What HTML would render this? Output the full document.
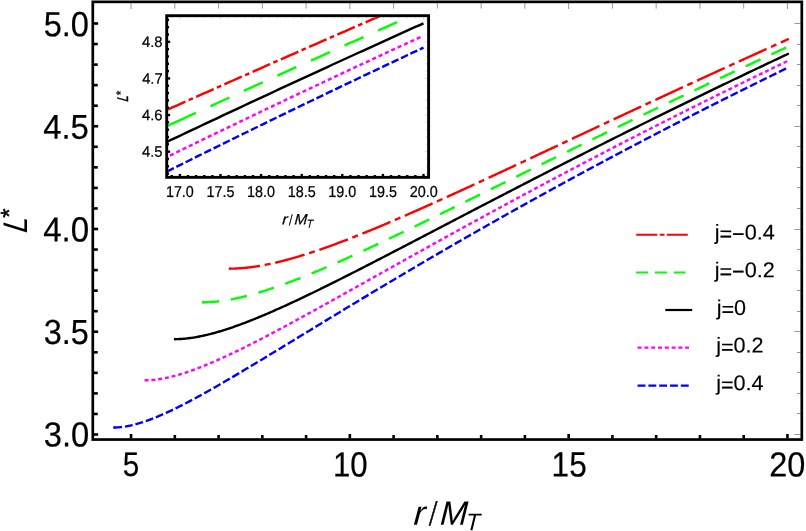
<!DOCTYPE html>
<html><head><meta charset="utf-8"><title>L* vs r/M_T</title>
<style>
html,body{margin:0;padding:0;background:#fff;}
svg{display:block;will-change:transform;}
text{font-family:"Liberation Sans",sans-serif;fill:#000;}
</style></head>
<body>
<svg width="806" height="531" viewBox="0 0 806 531">
<rect x="0" y="0" width="806" height="531" fill="#fff"/>
<defs>
<clipPath id="ic"><rect x="166.7" y="15.7" width="261.90000000000003" height="161.65"/></clipPath>
</defs>
<!-- main curves -->
<g fill="none" stroke-width="2.4">
<path d="M229.70,268.65 L231.10,268.64 L232.50,268.62 L233.90,268.58 L235.30,268.54 L236.70,268.47 L238.11,268.40 L239.51,268.31 L240.91,268.22 L242.31,268.11 L243.71,267.99 L245.11,267.85 L246.51,267.71 L247.91,267.56 L249.32,267.39 L250.72,267.22 L252.12,267.03 L253.52,266.84 L254.92,266.63 L256.32,266.42 L257.72,266.20 L259.13,265.97 L260.53,265.73 L261.93,265.48 L263.33,265.22 L264.73,264.96 L266.13,264.68 L267.53,264.40 L268.94,264.11 L270.34,263.82 L271.74,263.51 L273.14,263.20 L274.54,262.89 L275.94,262.56 L277.34,262.23 L278.75,261.89 L280.15,261.55 L281.55,261.20 L282.95,260.84 L284.35,260.48 L285.75,260.11 L287.15,259.74 L288.56,259.36 L289.96,258.97 L291.36,258.58 L292.76,258.19 L294.16,257.79 L295.56,257.38 L296.96,256.97 L298.36,256.55 L299.77,256.13 L301.17,255.70 L302.57,255.27 L303.97,254.84 L305.37,254.40 L306.77,253.96 L308.17,253.51 L309.58,253.06 L310.98,252.60 L312.38,252.14 L313.78,251.67 L315.18,251.21 L316.58,250.73 L317.98,250.26 L319.39,249.78 L320.79,249.30 L322.19,248.81 L323.59,248.32 L324.99,247.83 L326.39,247.33 L327.79,246.83 L329.20,246.33 L330.60,245.82 L332.00,245.31 L333.40,244.80 L334.80,244.28 L336.20,243.76 L337.60,243.24 L339.00,242.72 L340.41,242.19 L341.81,241.66 L343.21,241.13 L344.61,240.60 L346.01,240.06 L347.41,239.52 L348.81,238.98 L350.22,238.43 L351.62,237.89 L353.02,237.34 L354.42,236.79 L355.82,236.23 L357.22,235.68 L358.62,235.12 L360.03,234.56 L361.43,234.00 L362.83,233.43 L364.23,232.87 L365.63,232.30 L367.03,231.73 L368.43,231.16 L369.84,230.58 L371.24,230.01 L372.64,229.43 L374.04,228.85 L375.44,228.27 L376.84,227.69 L378.24,227.10 L379.65,226.52 L381.05,225.93 L382.45,225.34 L383.85,224.75 L385.25,224.16 L386.65,223.56 L388.05,222.97 L389.45,222.37 L390.86,221.77 L392.26,221.18 L393.66,220.57 L395.06,219.97 L396.46,219.37 L397.86,218.77 L399.26,218.16 L400.67,217.55 L402.07,216.95 L403.47,216.34 L404.87,215.73 L406.27,215.11 L407.67,214.50 L409.07,213.89 L410.48,213.27 L411.88,212.66 L413.28,212.04 L414.68,211.42 L416.08,210.80 L417.48,210.18 L418.88,209.56 L420.29,208.94 L421.69,208.32 L423.09,207.70 L424.49,207.07 L425.89,206.45 L427.29,205.82 L428.69,205.19 L430.10,204.57 L431.50,203.94 L432.90,203.31 L434.30,202.68 L435.70,202.05 L437.10,201.42 L438.50,200.78 L439.90,200.15 L441.31,199.52 L442.71,198.88 L444.11,198.25 L445.51,197.61 L446.91,196.98 L448.31,196.34 L449.71,195.70 L451.12,195.06 L452.52,194.42 L453.92,193.79 L455.32,193.15 L456.72,192.50 L458.12,191.86 L459.52,191.22 L460.93,190.58 L462.33,189.94 L463.73,189.30 L465.13,188.65 L466.53,188.01 L467.93,187.36 L469.33,186.72 L470.74,186.07 L472.14,185.43 L473.54,184.78 L474.94,184.14 L476.34,183.49 L477.74,182.84 L479.14,182.19 L480.55,181.55 L481.95,180.90 L483.35,180.25 L484.75,179.60 L486.15,178.95 L487.55,178.30 L488.95,177.65 L490.35,177.00 L491.76,176.35 L493.16,175.70 L494.56,175.05 L495.96,174.40 L497.36,173.75 L498.76,173.09 L500.16,172.44 L501.57,171.79 L502.97,171.14 L504.37,170.48 L505.77,169.83 L507.17,169.18 L508.57,168.52 L509.97,167.87 L511.38,167.22 L512.78,166.56 L514.18,165.91 L515.58,165.25 L516.98,164.60 L518.38,163.95 L519.78,163.29 L521.19,162.64 L522.59,161.98 L523.99,161.32 L525.39,160.67 L526.79,160.01 L528.19,159.36 L529.59,158.70 L531.00,158.05 L532.40,157.39 L533.80,156.73 L535.20,156.08 L536.60,155.42 L538.00,154.77 L539.40,154.11 L540.80,153.45 L542.21,152.80 L543.61,152.14 L545.01,151.48 L546.41,150.83 L547.81,150.17 L549.21,149.51 L550.61,148.86 L552.02,148.20 L553.42,147.54 L554.82,146.89 L556.22,146.23 L557.62,145.57 L559.02,144.91 L560.42,144.26 L561.83,143.60 L563.23,142.94 L564.63,142.29 L566.03,141.63 L567.43,140.97 L568.83,140.32 L570.23,139.66 L571.64,139.00 L573.04,138.35 L574.44,137.69 L575.84,137.03 L577.24,136.37 L578.64,135.72 L580.04,135.06 L581.44,134.40 L582.85,133.75 L584.25,133.09 L585.65,132.43 L587.05,131.78 L588.45,131.12 L589.85,130.47 L591.25,129.81 L592.66,129.15 L594.06,128.50 L595.46,127.84 L596.86,127.19 L598.26,126.53 L599.66,125.87 L601.06,125.22 L602.47,124.56 L603.87,123.91 L605.27,123.25 L606.67,122.60 L608.07,121.94 L609.47,121.29 L610.87,120.63 L612.28,119.98 L613.68,119.32 L615.08,118.67 L616.48,118.01 L617.88,117.36 L619.28,116.70 L620.68,116.05 L622.09,115.40 L623.49,114.74 L624.89,114.09 L626.29,113.43 L627.69,112.78 L629.09,112.13 L630.49,111.47 L631.89,110.82 L633.30,110.17 L634.70,109.52 L636.10,108.86 L637.50,108.21 L638.90,107.56 L640.30,106.91 L641.70,106.25 L643.11,105.60 L644.51,104.95 L645.91,104.30 L647.31,103.65 L648.71,103.00 L650.11,102.35 L651.51,101.69 L652.92,101.04 L654.32,100.39 L655.72,99.74 L657.12,99.09 L658.52,98.44 L659.92,97.79 L661.32,97.14 L662.73,96.49 L664.13,95.84 L665.53,95.19 L666.93,94.55 L668.33,93.90 L669.73,93.25 L671.13,92.60 L672.54,91.95 L673.94,91.30 L675.34,90.66 L676.74,90.01 L678.14,89.36 L679.54,88.71 L680.94,88.07 L682.34,87.42 L683.75,86.77 L685.15,86.13 L686.55,85.48 L687.95,84.83 L689.35,84.19 L690.75,83.54 L692.15,82.90 L693.56,82.25 L694.96,81.61 L696.36,80.96 L697.76,80.32 L699.16,79.67 L700.56,79.03 L701.96,78.38 L703.37,77.74 L704.77,77.10 L706.17,76.45 L707.57,75.81 L708.97,75.17 L710.37,74.52 L711.77,73.88 L713.18,73.24 L714.58,72.60 L715.98,71.96 L717.38,71.31 L718.78,70.67 L720.18,70.03 L721.58,69.39 L722.99,68.75 L724.39,68.11 L725.79,67.47 L727.19,66.83 L728.59,66.19 L729.99,65.55 L731.39,64.91 L732.79,64.27 L734.20,63.63 L735.60,62.99 L737.00,62.35 L738.40,61.72 L739.80,61.08 L741.20,60.44 L742.60,59.80 L744.01,59.17 L745.41,58.53 L746.81,57.89 L748.21,57.26 L749.61,56.62 L751.01,55.98 L752.41,55.35 L753.82,54.71 L755.22,54.08 L756.62,53.44 L758.02,52.81 L759.42,52.17 L760.82,51.54 L762.22,50.90 L763.63,50.27 L765.03,49.63 L766.43,49.00 L767.83,48.37 L769.23,47.74 L770.63,47.10 L772.03,46.47 L773.44,45.84 L774.84,45.21 L776.24,44.57 L777.64,43.94 L779.04,43.31 L780.44,42.68 L781.84,42.05 L783.24,41.42 L784.65,40.79 L786.05,40.16 L787.45,39.53 L788.85,38.90" stroke="#ff0000" stroke-dasharray="30.4 4.8 6.0 4.8" stroke-dashoffset="0"/>
<path d="M228.80,268.65 L230.70,268.65" stroke="#ff0000"/>
<path d="M202.77,302.29 L204.24,302.28 L205.71,302.25 L207.18,302.21 L208.65,302.15 L210.12,302.07 L211.59,301.98 L213.06,301.87 L214.53,301.74 L215.99,301.60 L217.46,301.45 L218.93,301.28 L220.40,301.10 L221.87,300.91 L223.34,300.70 L224.81,300.48 L226.28,300.25 L227.75,300.01 L229.21,299.75 L230.68,299.49 L232.15,299.21 L233.62,298.92 L235.09,298.62 L236.56,298.31 L238.03,298.00 L239.50,297.67 L240.96,297.33 L242.43,296.99 L243.90,296.63 L245.37,296.27 L246.84,295.90 L248.31,295.52 L249.78,295.13 L251.25,294.73 L252.72,294.33 L254.18,293.92 L255.65,293.50 L257.12,293.07 L258.59,292.64 L260.06,292.20 L261.53,291.75 L263.00,291.30 L264.47,290.84 L265.94,290.38 L267.40,289.90 L268.87,289.43 L270.34,288.94 L271.81,288.46 L273.28,287.96 L274.75,287.46 L276.22,286.96 L277.69,286.45 L279.16,285.93 L280.62,285.41 L282.09,284.89 L283.56,284.36 L285.03,283.82 L286.50,283.29 L287.97,282.74 L289.44,282.20 L290.91,281.65 L292.37,281.09 L293.84,280.53 L295.31,279.97 L296.78,279.40 L298.25,278.83 L299.72,278.26 L301.19,277.68 L302.66,277.10 L304.13,276.51 L305.59,275.92 L307.06,275.33 L308.53,274.74 L310.00,274.14 L311.47,273.54 L312.94,272.93 L314.41,272.33 L315.88,271.72 L317.35,271.10 L318.81,270.49 L320.28,269.87 L321.75,269.25 L323.22,268.63 L324.69,268.00 L326.16,267.37 L327.63,266.74 L329.10,266.11 L330.57,265.47 L332.03,264.84 L333.50,264.20 L334.97,263.55 L336.44,262.91 L337.91,262.26 L339.38,261.62 L340.85,260.97 L342.32,260.31 L343.79,259.66 L345.25,259.00 L346.72,258.35 L348.19,257.69 L349.66,257.03 L351.13,256.36 L352.60,255.70 L354.07,255.03 L355.54,254.36 L357.00,253.70 L358.47,253.02 L359.94,252.35 L361.41,251.68 L362.88,251.00 L364.35,250.33 L365.82,249.65 L367.29,248.97 L368.76,248.29 L370.22,247.61 L371.69,246.92 L373.16,246.24 L374.63,245.55 L376.10,244.87 L377.57,244.18 L379.04,243.49 L380.51,242.80 L381.98,242.11 L383.44,241.42 L384.91,240.73 L386.38,240.03 L387.85,239.34 L389.32,238.64 L390.79,237.94 L392.26,237.25 L393.73,236.55 L395.20,235.85 L396.66,235.15 L398.13,234.45 L399.60,233.75 L401.07,233.04 L402.54,232.34 L404.01,231.64 L405.48,230.93 L406.95,230.23 L408.42,229.52 L409.88,228.81 L411.35,228.11 L412.82,227.40 L414.29,226.69 L415.76,225.98 L417.23,225.27 L418.70,224.56 L420.17,223.85 L421.63,223.14 L423.10,222.42 L424.57,221.71 L426.04,221.00 L427.51,220.29 L428.98,219.57 L430.45,218.86 L431.92,218.14 L433.39,217.43 L434.85,216.71 L436.32,216.00 L437.79,215.28 L439.26,214.56 L440.73,213.84 L442.20,213.13 L443.67,212.41 L445.14,211.69 L446.61,210.97 L448.07,210.25 L449.54,209.54 L451.01,208.82 L452.48,208.10 L453.95,207.38 L455.42,206.66 L456.89,205.94 L458.36,205.22 L459.83,204.49 L461.29,203.77 L462.76,203.05 L464.23,202.33 L465.70,201.61 L467.17,200.89 L468.64,200.17 L470.11,199.44 L471.58,198.72 L473.04,198.00 L474.51,197.28 L475.98,196.55 L477.45,195.83 L478.92,195.11 L480.39,194.39 L481.86,193.66 L483.33,192.94 L484.80,192.22 L486.26,191.49 L487.73,190.77 L489.20,190.05 L490.67,189.32 L492.14,188.60 L493.61,187.88 L495.08,187.15 L496.55,186.43 L498.02,185.71 L499.48,184.98 L500.95,184.26 L502.42,183.54 L503.89,182.81 L505.36,182.09 L506.83,181.36 L508.30,180.64 L509.77,179.92 L511.24,179.19 L512.70,178.47 L514.17,177.75 L515.64,177.02 L517.11,176.30 L518.58,175.58 L520.05,174.85 L521.52,174.13 L522.99,173.41 L524.46,172.69 L525.92,171.96 L527.39,171.24 L528.86,170.52 L530.33,169.79 L531.80,169.07 L533.27,168.35 L534.74,167.63 L536.21,166.91 L537.67,166.18 L539.14,165.46 L540.61,164.74 L542.08,164.02 L543.55,163.30 L545.02,162.58 L546.49,161.85 L547.96,161.13 L549.43,160.41 L550.89,159.69 L552.36,158.97 L553.83,158.25 L555.30,157.53 L556.77,156.81 L558.24,156.09 L559.71,155.37 L561.18,154.65 L562.65,153.93 L564.11,153.21 L565.58,152.49 L567.05,151.77 L568.52,151.06 L569.99,150.34 L571.46,149.62 L572.93,148.90 L574.40,148.18 L575.87,147.47 L577.33,146.75 L578.80,146.03 L580.27,145.31 L581.74,144.60 L583.21,143.88 L584.68,143.16 L586.15,142.45 L587.62,141.73 L589.09,141.02 L590.55,140.30 L592.02,139.58 L593.49,138.87 L594.96,138.15 L596.43,137.44 L597.90,136.73 L599.37,136.01 L600.84,135.30 L602.30,134.58 L603.77,133.87 L605.24,133.16 L606.71,132.44 L608.18,131.73 L609.65,131.02 L611.12,130.31 L612.59,129.59 L614.06,128.88 L615.52,128.17 L616.99,127.46 L618.46,126.75 L619.93,126.04 L621.40,125.33 L622.87,124.62 L624.34,123.91 L625.81,123.20 L627.28,122.49 L628.74,121.78 L630.21,121.07 L631.68,120.36 L633.15,119.66 L634.62,118.95 L636.09,118.24 L637.56,117.53 L639.03,116.83 L640.50,116.12 L641.96,115.41 L643.43,114.71 L644.90,114.00 L646.37,113.29 L647.84,112.59 L649.31,111.88 L650.78,111.18 L652.25,110.47 L653.72,109.77 L655.18,109.07 L656.65,108.36 L658.12,107.66 L659.59,106.96 L661.06,106.25 L662.53,105.55 L664.00,104.85 L665.47,104.15 L666.93,103.45 L668.40,102.75 L669.87,102.04 L671.34,101.34 L672.81,100.64 L674.28,99.94 L675.75,99.24 L677.22,98.54 L678.69,97.85 L680.15,97.15 L681.62,96.45 L683.09,95.75 L684.56,95.05 L686.03,94.35 L687.50,93.66 L688.97,92.96 L690.44,92.26 L691.91,91.57 L693.37,90.87 L694.84,90.18 L696.31,89.48 L697.78,88.79 L699.25,88.09 L700.72,87.40 L702.19,86.70 L703.66,86.01 L705.13,85.32 L706.59,84.62 L708.06,83.93 L709.53,83.24 L711.00,82.55 L712.47,81.85 L713.94,81.16 L715.41,80.47 L716.88,79.78 L718.34,79.09 L719.81,78.40 L721.28,77.71 L722.75,77.02 L724.22,76.33 L725.69,75.64 L727.16,74.95 L728.63,74.27 L730.10,73.58 L731.56,72.89 L733.03,72.20 L734.50,71.52 L735.97,70.83 L737.44,70.14 L738.91,69.46 L740.38,68.77 L741.85,68.09 L743.32,67.40 L744.78,66.72 L746.25,66.03 L747.72,65.35 L749.19,64.67 L750.66,63.98 L752.13,63.30 L753.60,62.62 L755.07,61.93 L756.54,61.25 L758.00,60.57 L759.47,59.89 L760.94,59.21 L762.41,58.53 L763.88,57.85 L765.35,57.17 L766.82,56.49 L768.29,55.81 L769.76,55.13 L771.22,54.45 L772.69,53.77 L774.16,53.09 L775.63,52.42 L777.10,51.74 L778.57,51.06 L780.04,50.39 L781.51,49.71 L782.97,49.03 L784.44,48.36 L785.91,47.68 L787.38,47.01 L788.85,46.33" stroke="#00ff00" stroke-dasharray="16.3 12.0" stroke-dashoffset="0"/>
<path d="M201.87,302.29 L203.77,302.29" stroke="#00ff00"/>
<path d="M174.81,339.13 L176.35,339.12 L177.89,339.08 L179.43,339.02 L180.97,338.94 L182.50,338.84 L184.04,338.72 L185.58,338.57 L187.12,338.41 L188.66,338.23 L190.20,338.03 L191.74,337.82 L193.28,337.59 L194.82,337.34 L196.36,337.07 L197.89,336.79 L199.43,336.50 L200.97,336.19 L202.51,335.86 L204.05,335.53 L205.59,335.18 L207.13,334.81 L208.67,334.44 L210.21,334.05 L211.74,333.65 L213.28,333.24 L214.82,332.82 L216.36,332.39 L217.90,331.95 L219.44,331.49 L220.98,331.03 L222.52,330.56 L224.06,330.08 L225.60,329.59 L227.13,329.09 L228.67,328.58 L230.21,328.07 L231.75,327.55 L233.29,327.01 L234.83,326.48 L236.37,325.93 L237.91,325.38 L239.45,324.82 L240.98,324.25 L242.52,323.68 L244.06,323.10 L245.60,322.51 L247.14,321.92 L248.68,321.32 L250.22,320.72 L251.76,320.11 L253.30,319.49 L254.84,318.87 L256.37,318.25 L257.91,317.62 L259.45,316.98 L260.99,316.34 L262.53,315.70 L264.07,315.05 L265.61,314.39 L267.15,313.74 L268.69,313.07 L270.22,312.41 L271.76,311.74 L273.30,311.06 L274.84,310.39 L276.38,309.70 L277.92,309.02 L279.46,308.33 L281.00,307.64 L282.54,306.94 L284.08,306.24 L285.61,305.54 L287.15,304.84 L288.69,304.13 L290.23,303.42 L291.77,302.71 L293.31,301.99 L294.85,301.27 L296.39,300.55 L297.93,299.83 L299.46,299.10 L301.00,298.37 L302.54,297.64 L304.08,296.91 L305.62,296.17 L307.16,295.43 L308.70,294.69 L310.24,293.95 L311.78,293.21 L313.32,292.46 L314.85,291.71 L316.39,290.96 L317.93,290.21 L319.47,289.46 L321.01,288.70 L322.55,287.94 L324.09,287.18 L325.63,286.42 L327.17,285.66 L328.70,284.90 L330.24,284.14 L331.78,283.37 L333.32,282.60 L334.86,281.83 L336.40,281.06 L337.94,280.29 L339.48,279.52 L341.02,278.75 L342.56,277.97 L344.09,277.19 L345.63,276.42 L347.17,275.64 L348.71,274.86 L350.25,274.08 L351.79,273.30 L353.33,272.52 L354.87,271.73 L356.41,270.95 L357.94,270.17 L359.48,269.38 L361.02,268.59 L362.56,267.81 L364.10,267.02 L365.64,266.23 L367.18,265.44 L368.72,264.65 L370.26,263.86 L371.80,263.07 L373.33,262.28 L374.87,261.48 L376.41,260.69 L377.95,259.90 L379.49,259.10 L381.03,258.31 L382.57,257.51 L384.11,256.72 L385.65,255.92 L387.18,255.12 L388.72,254.33 L390.26,253.53 L391.80,252.73 L393.34,251.93 L394.88,251.13 L396.42,250.33 L397.96,249.54 L399.50,248.74 L401.04,247.94 L402.57,247.14 L404.11,246.34 L405.65,245.53 L407.19,244.73 L408.73,243.93 L410.27,243.13 L411.81,242.33 L413.35,241.53 L414.89,240.73 L416.42,239.92 L417.96,239.12 L419.50,238.32 L421.04,237.52 L422.58,236.72 L424.12,235.91 L425.66,235.11 L427.20,234.31 L428.74,233.50 L430.28,232.70 L431.81,231.90 L433.35,231.10 L434.89,230.29 L436.43,229.49 L437.97,228.69 L439.51,227.88 L441.05,227.08 L442.59,226.28 L444.13,225.47 L445.66,224.67 L447.20,223.87 L448.74,223.07 L450.28,222.26 L451.82,221.46 L453.36,220.66 L454.90,219.86 L456.44,219.05 L457.98,218.25 L459.52,217.45 L461.05,216.65 L462.59,215.85 L464.13,215.04 L465.67,214.24 L467.21,213.44 L468.75,212.64 L470.29,211.84 L471.83,211.04 L473.37,210.24 L474.90,209.43 L476.44,208.63 L477.98,207.83 L479.52,207.03 L481.06,206.23 L482.60,205.43 L484.14,204.63 L485.68,203.83 L487.22,203.04 L488.76,202.24 L490.29,201.44 L491.83,200.64 L493.37,199.84 L494.91,199.04 L496.45,198.25 L497.99,197.45 L499.53,196.65 L501.07,195.85 L502.61,195.06 L504.14,194.26 L505.68,193.46 L507.22,192.67 L508.76,191.87 L510.30,191.08 L511.84,190.28 L513.38,189.49 L514.92,188.69 L516.46,187.90 L518.00,187.10 L519.53,186.31 L521.07,185.52 L522.61,184.72 L524.15,183.93 L525.69,183.14 L527.23,182.35 L528.77,181.56 L530.31,180.76 L531.85,179.97 L533.38,179.18 L534.92,178.39 L536.46,177.60 L538.00,176.81 L539.54,176.02 L541.08,175.23 L542.62,174.45 L544.16,173.66 L545.70,172.87 L547.24,172.08 L548.77,171.29 L550.31,170.51 L551.85,169.72 L553.39,168.93 L554.93,168.15 L556.47,167.36 L558.01,166.58 L559.55,165.79 L561.09,165.01 L562.62,164.22 L564.16,163.44 L565.70,162.66 L567.24,161.87 L568.78,161.09 L570.32,160.31 L571.86,159.53 L573.40,158.75 L574.94,157.97 L576.48,157.19 L578.01,156.41 L579.55,155.63 L581.09,154.85 L582.63,154.07 L584.17,153.29 L585.71,152.51 L587.25,151.73 L588.79,150.96 L590.33,150.18 L591.86,149.40 L593.40,148.63 L594.94,147.85 L596.48,147.07 L598.02,146.30 L599.56,145.52 L601.10,144.75 L602.64,143.98 L604.18,143.20 L605.72,142.43 L607.25,141.66 L608.79,140.89 L610.33,140.11 L611.87,139.34 L613.41,138.57 L614.95,137.80 L616.49,137.03 L618.03,136.26 L619.57,135.49 L621.10,134.72 L622.64,133.96 L624.18,133.19 L625.72,132.42 L627.26,131.65 L628.80,130.89 L630.34,130.12 L631.88,129.35 L633.42,128.59 L634.96,127.82 L636.49,127.06 L638.03,126.30 L639.57,125.53 L641.11,124.77 L642.65,124.01 L644.19,123.24 L645.73,122.48 L647.27,121.72 L648.81,120.96 L650.34,120.20 L651.88,119.44 L653.42,118.68 L654.96,117.92 L656.50,117.16 L658.04,116.40 L659.58,115.64 L661.12,114.89 L662.66,114.13 L664.20,113.37 L665.73,112.62 L667.27,111.86 L668.81,111.10 L670.35,110.35 L671.89,109.59 L673.43,108.84 L674.97,108.09 L676.51,107.33 L678.05,106.58 L679.58,105.83 L681.12,105.08 L682.66,104.32 L684.20,103.57 L685.74,102.82 L687.28,102.07 L688.82,101.32 L690.36,100.57 L691.90,99.82 L693.44,99.08 L694.97,98.33 L696.51,97.58 L698.05,96.83 L699.59,96.09 L701.13,95.34 L702.67,94.59 L704.21,93.85 L705.75,93.10 L707.29,92.36 L708.83,91.62 L710.36,90.87 L711.90,90.13 L713.44,89.39 L714.98,88.64 L716.52,87.90 L718.06,87.16 L719.60,86.42 L721.14,85.68 L722.68,84.94 L724.21,84.20 L725.75,83.46 L727.29,82.72 L728.83,81.98 L730.37,81.24 L731.91,80.51 L733.45,79.77 L734.99,79.03 L736.53,78.30 L738.07,77.56 L739.60,76.83 L741.14,76.09 L742.68,75.36 L744.22,74.62 L745.76,73.89 L747.30,73.16 L748.84,72.42 L750.38,71.69 L751.92,70.96 L753.45,70.23 L754.99,69.50 L756.53,68.76 L758.07,68.03 L759.61,67.31 L761.15,66.58 L762.69,65.85 L764.23,65.12 L765.77,64.39 L767.31,63.66 L768.84,62.94 L770.38,62.21 L771.92,61.48 L773.46,60.76 L775.00,60.03 L776.54,59.31 L778.08,58.58 L779.62,57.86 L781.16,57.13 L782.69,56.41 L784.23,55.69 L785.77,54.97 L787.31,54.24 L788.85,53.52" stroke="#000000"/>
<path d="M173.91,339.13 L175.81,339.13" stroke="#000000"/>
<path d="M144.57,380.24 L145.47,380.24 L147.08,380.23 L148.69,380.18 L150.30,380.10 L151.92,379.99 L153.53,379.85 L155.14,379.69 L156.75,379.49 L158.37,379.28 L159.98,379.04 L161.59,378.77 L163.20,378.49 L164.82,378.18 L166.43,377.85 L168.04,377.50 L169.65,377.14 L171.27,376.75 L172.88,376.35 L174.49,375.93 L176.10,375.49 L177.72,375.04 L179.33,374.57 L180.94,374.09 L182.55,373.59 L184.17,373.08 L185.78,372.56 L187.39,372.02 L189.00,371.47 L190.62,370.91 L192.23,370.34 L193.84,369.75 L195.45,369.16 L197.07,368.55 L198.68,367.94 L200.29,367.31 L201.90,366.68 L203.52,366.04 L205.13,365.38 L206.74,364.72 L208.35,364.05 L209.97,363.38 L211.58,362.69 L213.19,362.00 L214.80,361.30 L216.42,360.60 L218.03,359.88 L219.64,359.16 L221.25,358.44 L222.87,357.71 L224.48,356.97 L226.09,356.22 L227.70,355.47 L229.32,354.72 L230.93,353.96 L232.54,353.20 L234.15,352.43 L235.77,351.65 L237.38,350.87 L238.99,350.09 L240.60,349.30 L242.22,348.51 L243.83,347.71 L245.44,346.91 L247.05,346.11 L248.67,345.30 L250.28,344.49 L251.89,343.68 L253.50,342.86 L255.12,342.04 L256.73,341.21 L258.34,340.39 L259.95,339.56 L261.57,338.72 L263.18,337.89 L264.79,337.05 L266.40,336.21 L268.02,335.36 L269.63,334.52 L271.24,333.67 L272.85,332.82 L274.47,331.97 L276.08,331.11 L277.69,330.25 L279.30,329.40 L280.92,328.53 L282.53,327.67 L284.14,326.81 L285.75,325.94 L287.37,325.07 L288.98,324.20 L290.59,323.33 L292.20,322.46 L293.82,321.59 L295.43,320.71 L297.04,319.83 L298.65,318.96 L300.27,318.08 L301.88,317.20 L303.49,316.32 L305.10,315.43 L306.72,314.55 L308.33,313.66 L309.94,312.78 L311.55,311.89 L313.17,311.00 L314.78,310.12 L316.39,309.23 L318.00,308.34 L319.62,307.44 L321.23,306.55 L322.84,305.66 L324.45,304.77 L326.07,303.87 L327.68,302.98 L329.29,302.08 L330.90,301.19 L332.52,300.29 L334.13,299.40 L335.74,298.50 L337.35,297.60 L338.97,296.71 L340.58,295.81 L342.19,294.91 L343.80,294.01 L345.42,293.11 L347.03,292.21 L348.64,291.31 L350.25,290.41 L351.87,289.51 L353.48,288.61 L355.09,287.71 L356.70,286.81 L358.32,285.91 L359.93,285.01 L361.54,284.11 L363.15,283.21 L364.77,282.30 L366.38,281.40 L367.99,280.50 L369.60,279.60 L371.22,278.70 L372.83,277.80 L374.44,276.90 L376.05,275.99 L377.67,275.09 L379.28,274.19 L380.89,273.29 L382.50,272.39 L384.12,271.49 L385.73,270.59 L387.34,269.69 L388.95,268.79 L390.57,267.88 L392.18,266.98 L393.79,266.08 L395.40,265.18 L397.02,264.28 L398.63,263.38 L400.24,262.49 L401.85,261.59 L403.46,260.69 L405.08,259.79 L406.69,258.89 L408.30,257.99 L409.91,257.09 L411.53,256.20 L413.14,255.30 L414.75,254.40 L416.36,253.51 L417.98,252.61 L419.59,251.71 L421.20,250.82 L422.81,249.92 L424.43,249.03 L426.04,248.13 L427.65,247.24 L429.26,246.34 L430.88,245.45 L432.49,244.56 L434.10,243.66 L435.71,242.77 L437.33,241.88 L438.94,240.99 L440.55,240.10 L442.16,239.21 L443.78,238.31 L445.39,237.42 L447.00,236.54 L448.61,235.65 L450.23,234.76 L451.84,233.87 L453.45,232.98 L455.06,232.09 L456.68,231.21 L458.29,230.32 L459.90,229.43 L461.51,228.55 L463.13,227.66 L464.74,226.78 L466.35,225.90 L467.96,225.01 L469.58,224.13 L471.19,223.25 L472.80,222.36 L474.41,221.48 L476.03,220.60 L477.64,219.72 L479.25,218.84 L480.86,217.96 L482.48,217.08 L484.09,216.20 L485.70,215.32 L487.31,214.45 L488.93,213.57 L490.54,212.69 L492.15,211.82 L493.76,210.94 L495.38,210.07 L496.99,209.19 L498.60,208.32 L500.21,207.45 L501.83,206.57 L503.44,205.70 L505.05,204.83 L506.66,203.96 L508.28,203.09 L509.89,202.22 L511.50,201.35 L513.11,200.48 L514.73,199.61 L516.34,198.74 L517.95,197.88 L519.56,197.01 L521.18,196.14 L522.79,195.28 L524.40,194.41 L526.01,193.55 L527.63,192.69 L529.24,191.82 L530.85,190.96 L532.46,190.10 L534.08,189.24 L535.69,188.38 L537.30,187.52 L538.91,186.66 L540.53,185.80 L542.14,184.94 L543.75,184.08 L545.36,183.22 L546.98,182.37 L548.59,181.51 L550.20,180.65 L551.81,179.80 L553.43,178.94 L555.04,178.09 L556.65,177.24 L558.26,176.38 L559.88,175.53 L561.49,174.68 L563.10,173.83 L564.71,172.98 L566.33,172.13 L567.94,171.28 L569.55,170.43 L571.16,169.58 L572.78,168.74 L574.39,167.89 L576.00,167.04 L577.61,166.20 L579.23,165.35 L580.84,164.51 L582.45,163.67 L584.06,162.82 L585.68,161.98 L587.29,161.14 L588.90,160.30 L590.51,159.45 L592.13,158.61 L593.74,157.78 L595.35,156.94 L596.96,156.10 L598.58,155.26 L600.19,154.42 L601.80,153.59 L603.41,152.75 L605.03,151.91 L606.64,151.08 L608.25,150.24 L609.86,149.41 L611.48,148.58 L613.09,147.75 L614.70,146.91 L616.31,146.08 L617.93,145.25 L619.54,144.42 L621.15,143.59 L622.76,142.76 L624.38,141.93 L625.99,141.11 L627.60,140.28 L629.21,139.45 L630.83,138.63 L632.44,137.80 L634.05,136.98 L635.66,136.15 L637.28,135.33 L638.89,134.51 L640.50,133.68 L642.11,132.86 L643.73,132.04 L645.34,131.22 L646.95,130.40 L648.56,129.58 L650.18,128.76 L651.79,127.94 L653.40,127.13 L655.01,126.31 L656.63,125.49 L658.24,124.68 L659.85,123.86 L661.46,123.05 L663.08,122.23 L664.69,121.42 L666.30,120.60 L667.91,119.79 L669.53,118.98 L671.14,118.17 L672.75,117.36 L674.36,116.55 L675.98,115.74 L677.59,114.93 L679.20,114.12 L680.81,113.31 L682.43,112.51 L684.04,111.70 L685.65,110.89 L687.26,110.09 L688.88,109.28 L690.49,108.48 L692.10,107.67 L693.71,106.87 L695.33,106.07 L696.94,105.27 L698.55,104.46 L700.16,103.66 L701.78,102.86 L703.39,102.06 L705.00,101.26 L706.61,100.47 L708.23,99.67 L709.84,98.87 L711.45,98.07 L713.06,97.28 L714.68,96.48 L716.29,95.68 L717.90,94.89 L719.51,94.10 L721.13,93.30 L722.74,92.51 L724.35,91.72 L725.96,90.92 L727.58,90.13 L729.19,89.34 L730.80,88.55 L732.41,87.76 L734.03,86.97 L735.64,86.18 L737.25,85.40 L738.86,84.61 L740.48,83.82 L742.09,83.04 L743.70,82.25 L745.31,81.47 L746.93,80.68 L748.54,79.90 L750.15,79.11 L751.76,78.33 L753.38,77.55 L754.99,76.76 L756.60,75.98 L758.21,75.20 L759.83,74.42 L761.44,73.64 L763.05,72.86 L764.66,72.08 L766.28,71.31 L767.89,70.53 L769.50,69.75 L771.11,68.97 L772.73,68.20 L774.34,67.42 L775.95,66.65 L777.56,65.87 L779.18,65.10 L780.79,64.33 L782.40,63.55 L784.01,62.78 L785.63,62.01 L787.24,61.24 L788.85,60.47" stroke="#ff00ff" stroke-dasharray="4 2.816" stroke-dashoffset="0"/>
<path d="M114.17,427.50 L115.86,427.48 L117.55,427.41 L119.24,427.29 L120.93,427.13 L122.62,426.94 L124.31,426.71 L126.00,426.44 L127.69,426.13 L129.38,425.80 L131.07,425.43 L132.76,425.04 L134.45,424.62 L136.14,424.17 L137.82,423.69 L139.51,423.19 L141.20,422.67 L142.89,422.13 L144.58,421.56 L146.27,420.98 L147.96,420.37 L149.65,419.75 L151.34,419.11 L153.03,418.46 L154.72,417.78 L156.41,417.09 L158.10,416.39 L159.79,415.68 L161.48,414.95 L163.17,414.20 L164.85,413.45 L166.54,412.68 L168.23,411.90 L169.92,411.11 L171.61,410.31 L173.30,409.50 L174.99,408.68 L176.68,407.85 L178.37,407.01 L180.06,406.17 L181.75,405.31 L183.44,404.45 L185.13,403.58 L186.82,402.70 L188.51,401.82 L190.20,400.93 L191.88,400.03 L193.57,399.12 L195.26,398.22 L196.95,397.30 L198.64,396.38 L200.33,395.45 L202.02,394.52 L203.71,393.59 L205.40,392.65 L207.09,391.70 L208.78,390.75 L210.47,389.80 L212.16,388.84 L213.85,387.88 L215.54,386.92 L217.23,385.95 L218.92,384.98 L220.60,384.00 L222.29,383.03 L223.98,382.05 L225.67,381.06 L227.36,380.08 L229.05,379.09 L230.74,378.10 L232.43,377.10 L234.12,376.11 L235.81,375.11 L237.50,374.11 L239.19,373.11 L240.88,372.11 L242.57,371.10 L244.26,370.09 L245.95,369.09 L247.63,368.08 L249.32,367.06 L251.01,366.05 L252.70,365.04 L254.39,364.02 L256.08,363.00 L257.77,361.99 L259.46,360.97 L261.15,359.95 L262.84,358.93 L264.53,357.90 L266.22,356.88 L267.91,355.86 L269.60,354.83 L271.29,353.81 L272.98,352.78 L274.66,351.76 L276.35,350.73 L278.04,349.70 L279.73,348.68 L281.42,347.65 L283.11,346.62 L284.80,345.59 L286.49,344.56 L288.18,343.53 L289.87,342.50 L291.56,341.47 L293.25,340.45 L294.94,339.42 L296.63,338.39 L298.32,337.36 L300.01,336.33 L301.69,335.30 L303.38,334.27 L305.07,333.24 L306.76,332.21 L308.45,331.18 L310.14,330.15 L311.83,329.12 L313.52,328.09 L315.21,327.06 L316.90,326.03 L318.59,325.00 L320.28,323.97 L321.97,322.94 L323.66,321.92 L325.35,320.89 L327.04,319.86 L328.73,318.84 L330.41,317.81 L332.10,316.78 L333.79,315.76 L335.48,314.73 L337.17,313.71 L338.86,312.68 L340.55,311.66 L342.24,310.64 L343.93,309.61 L345.62,308.59 L347.31,307.57 L349.00,306.55 L350.69,305.53 L352.38,304.51 L354.07,303.49 L355.76,302.47 L357.44,301.45 L359.13,300.43 L360.82,299.41 L362.51,298.40 L364.20,297.38 L365.89,296.37 L367.58,295.35 L369.27,294.34 L370.96,293.32 L372.65,292.31 L374.34,291.30 L376.03,290.29 L377.72,289.28 L379.41,288.27 L381.10,287.26 L382.79,286.25 L384.47,285.24 L386.16,284.23 L387.85,283.23 L389.54,282.22 L391.23,281.21 L392.92,280.21 L394.61,279.21 L396.30,278.20 L397.99,277.20 L399.68,276.20 L401.37,275.20 L403.06,274.20 L404.75,273.20 L406.44,272.20 L408.13,271.20 L409.82,270.21 L411.50,269.21 L413.19,268.22 L414.88,267.22 L416.57,266.23 L418.26,265.24 L419.95,264.24 L421.64,263.25 L423.33,262.26 L425.02,261.27 L426.71,260.29 L428.40,259.30 L430.09,258.31 L431.78,257.32 L433.47,256.34 L435.16,255.35 L436.85,254.37 L438.54,253.39 L440.22,252.41 L441.91,251.43 L443.60,250.44 L445.29,249.47 L446.98,248.49 L448.67,247.51 L450.36,246.53 L452.05,245.56 L453.74,244.58 L455.43,243.61 L457.12,242.63 L458.81,241.66 L460.50,240.69 L462.19,239.72 L463.88,238.75 L465.57,237.78 L467.25,236.81 L468.94,235.84 L470.63,234.87 L472.32,233.91 L474.01,232.94 L475.70,231.98 L477.39,231.02 L479.08,230.05 L480.77,229.09 L482.46,228.13 L484.15,227.17 L485.84,226.21 L487.53,225.25 L489.22,224.30 L490.91,223.34 L492.60,222.38 L494.28,221.43 L495.97,220.48 L497.66,219.52 L499.35,218.57 L501.04,217.62 L502.73,216.67 L504.42,215.72 L506.11,214.77 L507.80,213.82 L509.49,212.88 L511.18,211.93 L512.87,210.98 L514.56,210.04 L516.25,209.10 L517.94,208.15 L519.63,207.21 L521.31,206.27 L523.00,205.33 L524.69,204.39 L526.38,203.45 L528.07,202.51 L529.76,201.58 L531.45,200.64 L533.14,199.71 L534.83,198.77 L536.52,197.84 L538.21,196.90 L539.90,195.97 L541.59,195.04 L543.28,194.11 L544.97,193.18 L546.66,192.25 L548.35,191.33 L550.03,190.40 L551.72,189.47 L553.41,188.55 L555.10,187.62 L556.79,186.70 L558.48,185.78 L560.17,184.86 L561.86,183.94 L563.55,183.02 L565.24,182.10 L566.93,181.18 L568.62,180.26 L570.31,179.34 L572.00,178.43 L573.69,177.51 L575.38,176.60 L577.06,175.68 L578.75,174.77 L580.44,173.86 L582.13,172.95 L583.82,172.04 L585.51,171.13 L587.20,170.22 L588.89,169.31 L590.58,168.40 L592.27,167.50 L593.96,166.59 L595.65,165.69 L597.34,164.78 L599.03,163.88 L600.72,162.98 L602.41,162.08 L604.09,161.18 L605.78,160.28 L607.47,159.38 L609.16,158.48 L610.85,157.58 L612.54,156.68 L614.23,155.79 L615.92,154.89 L617.61,154.00 L619.30,153.11 L620.99,152.21 L622.68,151.32 L624.37,150.43 L626.06,149.54 L627.75,148.65 L629.44,147.76 L631.12,146.87 L632.81,145.99 L634.50,145.10 L636.19,144.21 L637.88,143.33 L639.57,142.44 L641.26,141.56 L642.95,140.68 L644.64,139.80 L646.33,138.91 L648.02,138.03 L649.71,137.15 L651.40,136.28 L653.09,135.40 L654.78,134.52 L656.47,133.64 L658.16,132.77 L659.84,131.89 L661.53,131.02 L663.22,130.14 L664.91,129.27 L666.60,128.40 L668.29,127.53 L669.98,126.66 L671.67,125.79 L673.36,124.92 L675.05,124.05 L676.74,123.18 L678.43,122.31 L680.12,121.45 L681.81,120.58 L683.50,119.72 L685.19,118.85 L686.87,117.99 L688.56,117.13 L690.25,116.27 L691.94,115.41 L693.63,114.54 L695.32,113.68 L697.01,112.83 L698.70,111.97 L700.39,111.11 L702.08,110.25 L703.77,109.40 L705.46,108.54 L707.15,107.69 L708.84,106.83 L710.53,105.98 L712.22,105.13 L713.90,104.28 L715.59,103.42 L717.28,102.57 L718.97,101.72 L720.66,100.88 L722.35,100.03 L724.04,99.18 L725.73,98.33 L727.42,97.49 L729.11,96.64 L730.80,95.80 L732.49,94.95 L734.18,94.11 L735.87,93.26 L737.56,92.42 L739.25,91.58 L740.93,90.74 L742.62,89.90 L744.31,89.06 L746.00,88.22 L747.69,87.38 L749.38,86.55 L751.07,85.71 L752.76,84.87 L754.45,84.04 L756.14,83.20 L757.83,82.37 L759.52,81.54 L761.21,80.70 L762.90,79.87 L764.59,79.04 L766.28,78.21 L767.97,77.38 L769.65,76.55 L771.34,75.72 L773.03,74.89 L774.72,74.07 L776.41,73.24 L778.10,72.41 L779.79,71.59 L781.48,70.76 L783.17,69.94 L784.86,69.12 L786.55,68.29 L788.24,67.47" stroke="#0000ff" stroke-dasharray="7.9 2.9" stroke-dashoffset="0"/>
<path d="M113.27,427.50 L115.17,427.50" stroke="#0000ff"/>
</g>
<!-- main frame -->
<line x1="93.80" y1="434.50" x2="98.15" y2="434.50" stroke="#000" stroke-width="2.6"/>
<line x1="800.80" y1="434.50" x2="794.45" y2="434.50" stroke="#999" stroke-width="1"/>
<line x1="93.80" y1="413.95" x2="97.75" y2="413.95" stroke="#000" stroke-width="2.6"/>
<line x1="800.80" y1="413.50" x2="796.95" y2="413.50" stroke="#999" stroke-width="1"/>
<line x1="93.80" y1="393.40" x2="97.75" y2="393.40" stroke="#000" stroke-width="2.6"/>
<line x1="800.80" y1="393.50" x2="796.95" y2="393.50" stroke="#999" stroke-width="1"/>
<line x1="93.80" y1="372.85" x2="97.75" y2="372.85" stroke="#000" stroke-width="2.6"/>
<line x1="800.80" y1="372.50" x2="796.95" y2="372.50" stroke="#999" stroke-width="1"/>
<line x1="93.80" y1="352.30" x2="97.75" y2="352.30" stroke="#000" stroke-width="2.6"/>
<line x1="800.80" y1="352.50" x2="796.95" y2="352.50" stroke="#999" stroke-width="1"/>
<line x1="93.80" y1="331.75" x2="98.15" y2="331.75" stroke="#000" stroke-width="2.6"/>
<line x1="800.80" y1="331.50" x2="794.45" y2="331.50" stroke="#999" stroke-width="1"/>
<line x1="93.80" y1="311.20" x2="97.75" y2="311.20" stroke="#000" stroke-width="2.6"/>
<line x1="800.80" y1="311.50" x2="796.95" y2="311.50" stroke="#999" stroke-width="1"/>
<line x1="93.80" y1="290.65" x2="97.75" y2="290.65" stroke="#000" stroke-width="2.6"/>
<line x1="800.80" y1="290.50" x2="796.95" y2="290.50" stroke="#999" stroke-width="1"/>
<line x1="93.80" y1="270.10" x2="97.75" y2="270.10" stroke="#000" stroke-width="2.6"/>
<line x1="800.80" y1="270.50" x2="796.95" y2="270.50" stroke="#999" stroke-width="1"/>
<line x1="93.80" y1="249.55" x2="97.75" y2="249.55" stroke="#000" stroke-width="2.6"/>
<line x1="800.80" y1="249.50" x2="796.95" y2="249.50" stroke="#999" stroke-width="1"/>
<line x1="93.80" y1="229.00" x2="98.15" y2="229.00" stroke="#000" stroke-width="2.6"/>
<line x1="800.80" y1="229.50" x2="794.45" y2="229.50" stroke="#999" stroke-width="1"/>
<line x1="93.80" y1="208.45" x2="97.75" y2="208.45" stroke="#000" stroke-width="2.6"/>
<line x1="800.80" y1="208.50" x2="796.95" y2="208.50" stroke="#999" stroke-width="1"/>
<line x1="93.80" y1="187.90" x2="97.75" y2="187.90" stroke="#000" stroke-width="2.6"/>
<line x1="800.80" y1="187.50" x2="796.95" y2="187.50" stroke="#999" stroke-width="1"/>
<line x1="93.80" y1="167.35" x2="97.75" y2="167.35" stroke="#000" stroke-width="2.6"/>
<line x1="800.80" y1="167.50" x2="796.95" y2="167.50" stroke="#999" stroke-width="1"/>
<line x1="93.80" y1="146.80" x2="97.75" y2="146.80" stroke="#000" stroke-width="2.6"/>
<line x1="800.80" y1="146.50" x2="796.95" y2="146.50" stroke="#999" stroke-width="1"/>
<line x1="93.80" y1="126.25" x2="98.15" y2="126.25" stroke="#000" stroke-width="2.6"/>
<line x1="800.80" y1="126.50" x2="794.45" y2="126.50" stroke="#999" stroke-width="1"/>
<line x1="93.80" y1="105.70" x2="97.75" y2="105.70" stroke="#000" stroke-width="2.6"/>
<line x1="800.80" y1="105.50" x2="796.95" y2="105.50" stroke="#999" stroke-width="1"/>
<line x1="93.80" y1="85.15" x2="97.75" y2="85.15" stroke="#000" stroke-width="2.6"/>
<line x1="800.80" y1="85.50" x2="796.95" y2="85.50" stroke="#999" stroke-width="1"/>
<line x1="93.80" y1="64.60" x2="97.75" y2="64.60" stroke="#000" stroke-width="2.6"/>
<line x1="800.80" y1="64.50" x2="796.95" y2="64.50" stroke="#999" stroke-width="1"/>
<line x1="93.80" y1="44.05" x2="97.75" y2="44.05" stroke="#000" stroke-width="2.6"/>
<line x1="800.80" y1="44.50" x2="796.95" y2="44.50" stroke="#999" stroke-width="1"/>
<line x1="93.80" y1="23.50" x2="98.15" y2="23.50" stroke="#000" stroke-width="2.6"/>
<line x1="800.80" y1="23.50" x2="794.45" y2="23.50" stroke="#999" stroke-width="1"/>
<line x1="131.05" y1="438.55" x2="131.05" y2="434.00" stroke="#000" stroke-width="2.6"/>
<line x1="131.05" y1="2.85" x2="131.05" y2="9.00" stroke="#999" stroke-width="1"/>
<line x1="174.81" y1="438.55" x2="174.81" y2="435.00" stroke="#000" stroke-width="2.6"/>
<line x1="174.81" y1="2.85" x2="174.81" y2="8.60" stroke="#999" stroke-width="1"/>
<line x1="218.57" y1="438.55" x2="218.57" y2="435.00" stroke="#000" stroke-width="2.6"/>
<line x1="218.57" y1="2.85" x2="218.57" y2="8.60" stroke="#999" stroke-width="1"/>
<line x1="262.33" y1="438.55" x2="262.33" y2="435.00" stroke="#000" stroke-width="2.6"/>
<line x1="262.33" y1="2.85" x2="262.33" y2="8.60" stroke="#999" stroke-width="1"/>
<line x1="306.09" y1="438.55" x2="306.09" y2="435.00" stroke="#000" stroke-width="2.6"/>
<line x1="306.09" y1="2.85" x2="306.09" y2="8.60" stroke="#999" stroke-width="1"/>
<line x1="349.85" y1="438.55" x2="349.85" y2="434.00" stroke="#000" stroke-width="2.6"/>
<line x1="349.85" y1="2.85" x2="349.85" y2="9.00" stroke="#999" stroke-width="1"/>
<line x1="393.61" y1="438.55" x2="393.61" y2="435.00" stroke="#000" stroke-width="2.6"/>
<line x1="393.61" y1="2.85" x2="393.61" y2="8.60" stroke="#999" stroke-width="1"/>
<line x1="437.37" y1="438.55" x2="437.37" y2="435.00" stroke="#000" stroke-width="2.6"/>
<line x1="437.37" y1="2.85" x2="437.37" y2="8.60" stroke="#999" stroke-width="1"/>
<line x1="481.13" y1="438.55" x2="481.13" y2="435.00" stroke="#000" stroke-width="2.6"/>
<line x1="481.13" y1="2.85" x2="481.13" y2="8.60" stroke="#999" stroke-width="1"/>
<line x1="524.89" y1="438.55" x2="524.89" y2="435.00" stroke="#000" stroke-width="2.6"/>
<line x1="524.89" y1="2.85" x2="524.89" y2="8.60" stroke="#999" stroke-width="1"/>
<line x1="568.65" y1="438.55" x2="568.65" y2="434.00" stroke="#000" stroke-width="2.6"/>
<line x1="568.65" y1="2.85" x2="568.65" y2="9.00" stroke="#999" stroke-width="1"/>
<line x1="612.41" y1="438.55" x2="612.41" y2="435.00" stroke="#000" stroke-width="2.6"/>
<line x1="612.41" y1="2.85" x2="612.41" y2="8.60" stroke="#999" stroke-width="1"/>
<line x1="656.17" y1="438.55" x2="656.17" y2="435.00" stroke="#000" stroke-width="2.6"/>
<line x1="656.17" y1="2.85" x2="656.17" y2="8.60" stroke="#999" stroke-width="1"/>
<line x1="699.93" y1="438.55" x2="699.93" y2="435.00" stroke="#000" stroke-width="2.6"/>
<line x1="699.93" y1="2.85" x2="699.93" y2="8.60" stroke="#999" stroke-width="1"/>
<line x1="743.69" y1="438.55" x2="743.69" y2="435.00" stroke="#000" stroke-width="2.6"/>
<line x1="743.69" y1="2.85" x2="743.69" y2="8.60" stroke="#999" stroke-width="1"/>
<line x1="787.45" y1="438.55" x2="787.45" y2="434.00" stroke="#000" stroke-width="2.6"/>
<line x1="787.45" y1="2.85" x2="787.45" y2="9.00" stroke="#999" stroke-width="1"/>

<rect x="92.8" y="1.85" width="709.00" height="437.70" fill="none" stroke="#000" stroke-width="2.7"/>
<!-- inset -->
<rect x="166.7" y="15.7" width="261.90" height="161.65" fill="#fff"/>
<g fill="none" stroke-width="2.45" clip-path="url(#ic)">
<path d="M168.00,109.37 L172.33,107.44 L176.66,105.51 L180.99,103.58 L185.32,101.65 L189.65,99.73 L193.98,97.80 L198.31,95.87 L202.64,93.95 L206.97,92.03 L211.31,90.10 L215.64,88.18 L219.97,86.26 L224.30,84.34 L228.63,82.42 L232.96,80.50 L237.29,78.59 L241.62,76.67 L245.95,74.76 L250.28,72.84 L254.61,70.93 L258.94,69.02 L263.27,67.11 L267.60,65.20 L271.93,63.29 L276.26,61.38 L280.59,59.47 L284.92,57.57 L289.25,55.66 L293.58,53.76 L297.92,51.86 L302.25,49.96 L306.58,48.06 L310.91,46.16 L315.24,44.26 L319.57,42.36 L323.90,40.47 L328.23,38.57 L332.56,36.68 L336.89,34.79 L341.22,32.90 L345.55,31.01 L349.88,29.12 L354.21,27.23 L358.54,25.35 L362.87,23.46 L367.20,21.58 L371.53,19.69 L375.86,17.81 L380.19,15.93 L384.53,14.05 L388.86,12.18 L393.19,10.30 L397.52,8.42 L401.85,6.55 L406.18,4.68 L410.51,2.80 L414.84,0.93 L419.17,-0.94 L423.50,-2.80" stroke="#ff0000" stroke-dasharray="19.1 3.55 4.65 3.55" stroke-dashoffset="0"/>
<path d="M165.56,126.80 L168.93,125.25 L172.31,123.70 L175.68,122.15 L179.05,120.60 L182.42,119.05 L185.79,117.50 L189.16,115.95 L192.53,114.40 L195.90,112.86" stroke="#00ff00"/>
<path d="M195.90,112.86 L199.76,111.09 L203.62,109.32 L207.47,107.56 L211.33,105.79 L215.19,104.03 L219.05,102.26 L222.90,100.50 L226.76,98.74 L230.62,96.98 L234.48,95.22 L238.33,93.47 L242.19,91.71 L246.05,89.95 L249.91,88.20 L253.76,86.45 L257.62,84.69 L261.48,82.94 L265.34,81.19 L269.19,79.45 L273.05,77.70 L276.91,75.95 L280.77,74.21 L284.63,72.46 L288.48,70.72 L292.34,68.98 L296.20,67.24 L300.06,65.50 L303.91,63.76 L307.77,62.02 L311.63,60.29 L315.49,58.55 L319.34,56.82 L323.20,55.09 L327.06,53.36 L330.92,51.63 L334.77,49.90 L338.63,48.17 L342.49,46.44 L346.35,44.72 L350.21,42.99 L354.06,41.27 L357.92,39.55 L361.78,37.83 L365.64,36.11 L369.49,34.39 L373.35,32.67 L377.21,30.96 L381.07,29.24 L384.92,27.53 L388.78,25.82 L392.64,24.11 L396.50,22.40 L400.35,20.69 L404.21,18.98 L408.07,17.28 L411.93,15.57 L415.78,13.87 L419.64,12.16 L423.50,10.46" stroke="#00ff00" stroke-dasharray="20.8 16.0" stroke-dashoffset="20.8"/>
<path d="M165.56,142.54 L169.94,140.47 L174.31,138.40 L178.68,136.33 L183.05,134.26 L187.42,132.19 L191.79,130.13 L196.17,128.06 L200.54,126.00 L204.91,123.94 L209.28,121.89 L213.65,119.83 L218.03,117.78 L222.40,115.72 L226.77,113.67 L231.14,111.63 L235.51,109.58 L239.88,107.53 L244.26,105.49 L248.63,103.45 L253.00,101.41 L257.37,99.37 L261.74,97.34 L266.12,95.30 L270.49,93.27 L274.86,91.24 L279.23,89.21 L283.60,87.18 L287.97,85.16 L292.35,83.14 L296.72,81.12 L301.09,79.10 L305.46,77.08 L309.83,75.06 L314.21,73.05 L318.58,71.04 L322.95,69.03 L327.32,67.02 L331.69,65.01 L336.06,63.01 L340.44,61.00 L344.81,59.00 L349.18,57.00 L353.55,55.01 L357.92,53.01 L362.29,51.02 L366.67,49.02 L371.04,47.03 L375.41,45.04 L379.78,43.06 L384.15,41.07 L388.53,39.09 L392.90,37.11 L397.27,35.13 L401.64,33.15 L406.01,31.18 L410.38,29.20 L414.76,27.23 L419.13,25.26 L423.50,23.29" stroke="#000000"/>
<path d="M168.00,156.50 L172.30,154.41 L176.59,152.32 L180.89,150.23 L185.18,148.14 L189.48,146.06 L193.78,143.98 L198.07,141.90 L202.37,139.82 L206.66,137.74 L210.96,135.67 L215.26,133.60 L219.55,131.53 L223.85,129.46 L228.15,127.40 L232.44,125.34 L236.74,123.27 L241.03,121.22 L245.33,119.16 L249.63,117.11 L253.92,115.05 L258.22,113.00 L262.51,110.95 L266.81,108.91 L271.11,106.86 L275.40,104.82 L279.70,102.78 L283.99,100.75 L288.29,98.71 L292.59,96.68 L296.88,94.65 L301.18,92.62 L305.48,90.59 L309.77,88.56 L314.07,86.54 L318.36,84.52 L322.66,82.50 L326.96,80.48 L331.25,78.47 L335.55,76.45 L339.84,74.44 L344.14,72.43 L348.44,70.43 L352.73,68.42 L357.03,66.42 L361.32,64.42 L365.62,62.42 L369.92,60.42 L374.21,58.43 L378.51,56.44 L382.81,54.44 L387.10,52.46 L391.40,50.47 L395.69,48.48 L399.99,46.50 L404.29,44.52 L408.58,42.54 L412.88,40.56 L417.17,38.59 L421.47,36.61" stroke="#ff00ff" stroke-dasharray="4.1 2.9" stroke-dashoffset="4.8"/>
<path d="M168.00,171.03 L172.33,168.86 L176.66,166.70 L180.99,164.55 L185.32,162.39 L189.65,160.24 L193.98,158.09 L198.31,155.94 L202.64,153.80 L206.97,151.66 L211.31,149.52 L215.64,147.38 L219.97,145.25 L224.30,143.12 L228.63,140.99 L232.96,138.86 L237.29,136.74 L241.62,134.62 L245.95,132.50 L250.28,130.38 L254.61,128.27 L258.94,126.15 L263.27,124.04 L267.60,121.94 L271.93,119.83 L276.26,117.73 L280.59,115.63 L284.92,113.53 L289.25,111.44 L293.58,109.35 L297.92,107.25 L302.25,105.17 L306.58,103.08 L310.91,101.00 L315.24,98.92 L319.57,96.84 L323.90,94.76 L328.23,92.69 L332.56,90.62 L336.89,88.55 L341.22,86.48 L345.55,84.42 L349.88,82.36 L354.21,80.30 L358.54,78.24 L362.87,76.18 L367.20,74.13 L371.53,72.08 L375.86,70.03 L380.19,67.99 L384.53,65.94 L388.86,63.90 L393.19,61.86 L397.52,59.82 L401.85,57.79 L406.18,55.76 L410.51,53.73 L414.84,51.70 L419.17,49.67 L423.50,47.65" stroke="#0000ff" stroke-dasharray="7.6 2.8" stroke-dashoffset="1.1"/>
</g>
<line x1="171.78" y1="176.35" x2="171.78" y2="175.00" stroke="#000" stroke-width="2.4"/>
<line x1="171.78" y1="16.70" x2="171.78" y2="18.55" stroke="#ccc" stroke-width="0.7"/>
<line x1="179.90" y1="176.35" x2="179.90" y2="173.90" stroke="#000" stroke-width="2.4"/>
<line x1="179.90" y1="16.70" x2="179.90" y2="19.65" stroke="#ccc" stroke-width="0.7"/>
<line x1="188.02" y1="176.35" x2="188.02" y2="175.00" stroke="#000" stroke-width="2.4"/>
<line x1="188.02" y1="16.70" x2="188.02" y2="18.55" stroke="#ccc" stroke-width="0.7"/>
<line x1="196.14" y1="176.35" x2="196.14" y2="175.00" stroke="#000" stroke-width="2.4"/>
<line x1="196.14" y1="16.70" x2="196.14" y2="18.55" stroke="#ccc" stroke-width="0.7"/>
<line x1="204.26" y1="176.35" x2="204.26" y2="175.00" stroke="#000" stroke-width="2.4"/>
<line x1="204.26" y1="16.70" x2="204.26" y2="18.55" stroke="#ccc" stroke-width="0.7"/>
<line x1="212.38" y1="176.35" x2="212.38" y2="175.00" stroke="#000" stroke-width="2.4"/>
<line x1="212.38" y1="16.70" x2="212.38" y2="18.55" stroke="#ccc" stroke-width="0.7"/>
<line x1="220.50" y1="176.35" x2="220.50" y2="173.90" stroke="#000" stroke-width="2.4"/>
<line x1="220.50" y1="16.70" x2="220.50" y2="19.65" stroke="#ccc" stroke-width="0.7"/>
<line x1="228.62" y1="176.35" x2="228.62" y2="175.00" stroke="#000" stroke-width="2.4"/>
<line x1="228.62" y1="16.70" x2="228.62" y2="18.55" stroke="#ccc" stroke-width="0.7"/>
<line x1="236.74" y1="176.35" x2="236.74" y2="175.00" stroke="#000" stroke-width="2.4"/>
<line x1="236.74" y1="16.70" x2="236.74" y2="18.55" stroke="#ccc" stroke-width="0.7"/>
<line x1="244.86" y1="176.35" x2="244.86" y2="175.00" stroke="#000" stroke-width="2.4"/>
<line x1="244.86" y1="16.70" x2="244.86" y2="18.55" stroke="#ccc" stroke-width="0.7"/>
<line x1="252.98" y1="176.35" x2="252.98" y2="175.00" stroke="#000" stroke-width="2.4"/>
<line x1="252.98" y1="16.70" x2="252.98" y2="18.55" stroke="#ccc" stroke-width="0.7"/>
<line x1="261.10" y1="176.35" x2="261.10" y2="173.90" stroke="#000" stroke-width="2.4"/>
<line x1="261.10" y1="16.70" x2="261.10" y2="19.65" stroke="#ccc" stroke-width="0.7"/>
<line x1="269.22" y1="176.35" x2="269.22" y2="175.00" stroke="#000" stroke-width="2.4"/>
<line x1="269.22" y1="16.70" x2="269.22" y2="18.55" stroke="#ccc" stroke-width="0.7"/>
<line x1="277.34" y1="176.35" x2="277.34" y2="175.00" stroke="#000" stroke-width="2.4"/>
<line x1="277.34" y1="16.70" x2="277.34" y2="18.55" stroke="#ccc" stroke-width="0.7"/>
<line x1="285.46" y1="176.35" x2="285.46" y2="175.00" stroke="#000" stroke-width="2.4"/>
<line x1="285.46" y1="16.70" x2="285.46" y2="18.55" stroke="#ccc" stroke-width="0.7"/>
<line x1="293.58" y1="176.35" x2="293.58" y2="175.00" stroke="#000" stroke-width="2.4"/>
<line x1="293.58" y1="16.70" x2="293.58" y2="18.55" stroke="#ccc" stroke-width="0.7"/>
<line x1="301.70" y1="176.35" x2="301.70" y2="173.90" stroke="#000" stroke-width="2.4"/>
<line x1="301.70" y1="16.70" x2="301.70" y2="19.65" stroke="#ccc" stroke-width="0.7"/>
<line x1="309.82" y1="176.35" x2="309.82" y2="175.00" stroke="#000" stroke-width="2.4"/>
<line x1="309.82" y1="16.70" x2="309.82" y2="18.55" stroke="#ccc" stroke-width="0.7"/>
<line x1="317.94" y1="176.35" x2="317.94" y2="175.00" stroke="#000" stroke-width="2.4"/>
<line x1="317.94" y1="16.70" x2="317.94" y2="18.55" stroke="#ccc" stroke-width="0.7"/>
<line x1="326.06" y1="176.35" x2="326.06" y2="175.00" stroke="#000" stroke-width="2.4"/>
<line x1="326.06" y1="16.70" x2="326.06" y2="18.55" stroke="#ccc" stroke-width="0.7"/>
<line x1="334.18" y1="176.35" x2="334.18" y2="175.00" stroke="#000" stroke-width="2.4"/>
<line x1="334.18" y1="16.70" x2="334.18" y2="18.55" stroke="#ccc" stroke-width="0.7"/>
<line x1="342.30" y1="176.35" x2="342.30" y2="173.90" stroke="#000" stroke-width="2.4"/>
<line x1="342.30" y1="16.70" x2="342.30" y2="19.65" stroke="#ccc" stroke-width="0.7"/>
<line x1="350.42" y1="176.35" x2="350.42" y2="175.00" stroke="#000" stroke-width="2.4"/>
<line x1="350.42" y1="16.70" x2="350.42" y2="18.55" stroke="#ccc" stroke-width="0.7"/>
<line x1="358.54" y1="176.35" x2="358.54" y2="175.00" stroke="#000" stroke-width="2.4"/>
<line x1="358.54" y1="16.70" x2="358.54" y2="18.55" stroke="#ccc" stroke-width="0.7"/>
<line x1="366.66" y1="176.35" x2="366.66" y2="175.00" stroke="#000" stroke-width="2.4"/>
<line x1="366.66" y1="16.70" x2="366.66" y2="18.55" stroke="#ccc" stroke-width="0.7"/>
<line x1="374.78" y1="176.35" x2="374.78" y2="175.00" stroke="#000" stroke-width="2.4"/>
<line x1="374.78" y1="16.70" x2="374.78" y2="18.55" stroke="#ccc" stroke-width="0.7"/>
<line x1="382.90" y1="176.35" x2="382.90" y2="173.90" stroke="#000" stroke-width="2.4"/>
<line x1="382.90" y1="16.70" x2="382.90" y2="19.65" stroke="#ccc" stroke-width="0.7"/>
<line x1="391.02" y1="176.35" x2="391.02" y2="175.00" stroke="#000" stroke-width="2.4"/>
<line x1="391.02" y1="16.70" x2="391.02" y2="18.55" stroke="#ccc" stroke-width="0.7"/>
<line x1="399.14" y1="176.35" x2="399.14" y2="175.00" stroke="#000" stroke-width="2.4"/>
<line x1="399.14" y1="16.70" x2="399.14" y2="18.55" stroke="#ccc" stroke-width="0.7"/>
<line x1="407.26" y1="176.35" x2="407.26" y2="175.00" stroke="#000" stroke-width="2.4"/>
<line x1="407.26" y1="16.70" x2="407.26" y2="18.55" stroke="#ccc" stroke-width="0.7"/>
<line x1="415.38" y1="176.35" x2="415.38" y2="175.00" stroke="#000" stroke-width="2.4"/>
<line x1="415.38" y1="16.70" x2="415.38" y2="18.55" stroke="#ccc" stroke-width="0.7"/>
<line x1="423.50" y1="176.35" x2="423.50" y2="173.90" stroke="#000" stroke-width="2.4"/>
<line x1="423.50" y1="16.70" x2="423.50" y2="19.65" stroke="#ccc" stroke-width="0.7"/>
<line x1="167.70" y1="173.61" x2="169.05" y2="173.61" stroke="#000" stroke-width="2.4"/>
<line x1="427.60" y1="173.61" x2="425.75" y2="173.61" stroke="#ccc" stroke-width="0.7"/>
<line x1="167.70" y1="166.29" x2="169.05" y2="166.29" stroke="#000" stroke-width="2.4"/>
<line x1="427.60" y1="166.29" x2="425.75" y2="166.29" stroke="#ccc" stroke-width="0.7"/>
<line x1="167.70" y1="158.97" x2="169.05" y2="158.97" stroke="#000" stroke-width="2.4"/>
<line x1="427.60" y1="158.97" x2="425.75" y2="158.97" stroke="#ccc" stroke-width="0.7"/>
<line x1="167.70" y1="151.65" x2="170.15" y2="151.65" stroke="#000" stroke-width="2.4"/>
<line x1="427.60" y1="151.65" x2="424.65" y2="151.65" stroke="#ccc" stroke-width="0.7"/>
<line x1="167.70" y1="144.33" x2="169.05" y2="144.33" stroke="#000" stroke-width="2.4"/>
<line x1="427.60" y1="144.33" x2="425.75" y2="144.33" stroke="#ccc" stroke-width="0.7"/>
<line x1="167.70" y1="137.01" x2="169.05" y2="137.01" stroke="#000" stroke-width="2.4"/>
<line x1="427.60" y1="137.01" x2="425.75" y2="137.01" stroke="#ccc" stroke-width="0.7"/>
<line x1="167.70" y1="129.69" x2="169.05" y2="129.69" stroke="#000" stroke-width="2.4"/>
<line x1="427.60" y1="129.69" x2="425.75" y2="129.69" stroke="#ccc" stroke-width="0.7"/>
<line x1="167.70" y1="122.37" x2="169.05" y2="122.37" stroke="#000" stroke-width="2.4"/>
<line x1="427.60" y1="122.37" x2="425.75" y2="122.37" stroke="#ccc" stroke-width="0.7"/>
<line x1="167.70" y1="115.05" x2="170.15" y2="115.05" stroke="#000" stroke-width="2.4"/>
<line x1="427.60" y1="115.05" x2="424.65" y2="115.05" stroke="#ccc" stroke-width="0.7"/>
<line x1="167.70" y1="107.73" x2="169.05" y2="107.73" stroke="#000" stroke-width="2.4"/>
<line x1="427.60" y1="107.73" x2="425.75" y2="107.73" stroke="#ccc" stroke-width="0.7"/>
<line x1="167.70" y1="100.41" x2="169.05" y2="100.41" stroke="#000" stroke-width="2.4"/>
<line x1="427.60" y1="100.41" x2="425.75" y2="100.41" stroke="#ccc" stroke-width="0.7"/>
<line x1="167.70" y1="93.09" x2="169.05" y2="93.09" stroke="#000" stroke-width="2.4"/>
<line x1="427.60" y1="93.09" x2="425.75" y2="93.09" stroke="#ccc" stroke-width="0.7"/>
<line x1="167.70" y1="85.77" x2="169.05" y2="85.77" stroke="#000" stroke-width="2.4"/>
<line x1="427.60" y1="85.77" x2="425.75" y2="85.77" stroke="#ccc" stroke-width="0.7"/>
<line x1="167.70" y1="78.45" x2="170.15" y2="78.45" stroke="#000" stroke-width="2.4"/>
<line x1="427.60" y1="78.45" x2="424.65" y2="78.45" stroke="#ccc" stroke-width="0.7"/>
<line x1="167.70" y1="71.13" x2="169.05" y2="71.13" stroke="#000" stroke-width="2.4"/>
<line x1="427.60" y1="71.13" x2="425.75" y2="71.13" stroke="#ccc" stroke-width="0.7"/>
<line x1="167.70" y1="63.81" x2="169.05" y2="63.81" stroke="#000" stroke-width="2.4"/>
<line x1="427.60" y1="63.81" x2="425.75" y2="63.81" stroke="#ccc" stroke-width="0.7"/>
<line x1="167.70" y1="56.49" x2="169.05" y2="56.49" stroke="#000" stroke-width="2.4"/>
<line x1="427.60" y1="56.49" x2="425.75" y2="56.49" stroke="#ccc" stroke-width="0.7"/>
<line x1="167.70" y1="49.17" x2="169.05" y2="49.17" stroke="#000" stroke-width="2.4"/>
<line x1="427.60" y1="49.17" x2="425.75" y2="49.17" stroke="#ccc" stroke-width="0.7"/>
<line x1="167.70" y1="41.85" x2="170.15" y2="41.85" stroke="#000" stroke-width="2.4"/>
<line x1="427.60" y1="41.85" x2="424.65" y2="41.85" stroke="#ccc" stroke-width="0.7"/>
<line x1="167.70" y1="34.53" x2="169.05" y2="34.53" stroke="#000" stroke-width="2.4"/>
<line x1="427.60" y1="34.53" x2="425.75" y2="34.53" stroke="#ccc" stroke-width="0.7"/>
<line x1="167.70" y1="27.21" x2="169.05" y2="27.21" stroke="#000" stroke-width="2.4"/>
<line x1="427.60" y1="27.21" x2="425.75" y2="27.21" stroke="#ccc" stroke-width="0.7"/>
<line x1="167.70" y1="19.89" x2="169.05" y2="19.89" stroke="#000" stroke-width="2.4"/>
<line x1="427.60" y1="19.89" x2="425.75" y2="19.89" stroke="#ccc" stroke-width="0.7"/>

<rect x="166.7" y="15.7" width="261.90" height="161.65" fill="none" stroke="#000" stroke-width="2.9"/>
<!-- labels -->
<g transform="translate(43.82,446.55) rotate(0.03) scale(0.3271,0.3493)"><text font-size="100" stroke="#000" stroke-width="0.6">3.0</text></g>
<g transform="translate(43.83,344.05) rotate(0.03) scale(0.3242,0.3479)"><text font-size="100" stroke="#000" stroke-width="0.6">3.5</text></g>
<g transform="translate(43.14,241.55) rotate(0.03) scale(0.3306,0.3493)"><text font-size="100" stroke="#000" stroke-width="0.6">4.0</text></g>
<g transform="translate(43.14,138.66) rotate(0.03) scale(0.3293,0.3437)"><text font-size="100" stroke="#000" stroke-width="0.6">4.5</text></g>
<g transform="translate(43.70,36.25) rotate(0.03) scale(0.3258,0.3493)"><text font-size="100" stroke="#000" stroke-width="0.6">5.0</text></g>
<g transform="translate(122.82,475.86) rotate(0.03) scale(0.2958,0.3429)"><text font-size="100" stroke="#000" stroke-width="0.6">5</text></g>
<g transform="translate(333.02,476.55) rotate(0.03) scale(0.3119,0.3507)"><text font-size="100" stroke="#000" stroke-width="0.6">10</text></g>
<g transform="translate(551.59,476.45) rotate(0.03) scale(0.3160,0.3514)"><text font-size="100" stroke="#000" stroke-width="0.6">15</text></g>
<g transform="translate(769.28,476.45) rotate(0.03) scale(0.3243,0.3493)"><text font-size="100" stroke="#000" stroke-width="0.6">20</text></g>
<g transform="translate(714.65,239.50) rotate(0.03) scale(0.2162,0.2145)"><text font-size="100" stroke="#000" stroke-width="0.7">j<tspan dy="7.5">=−</tspan><tspan dy="-7.5">0.4</tspan></text></g>
<g transform="translate(714.65,277.20) rotate(0.03) scale(0.2162,0.2145)"><text font-size="100" stroke="#000" stroke-width="0.7">j<tspan dy="7.5">=−</tspan><tspan dy="-7.5">0.2</tspan></text></g>
<g transform="translate(716.65,314.90) rotate(0.03) scale(0.2162,0.2145)"><text font-size="100" stroke="#000" stroke-width="0.7">j<tspan dy="7.5">=</tspan><tspan dy="-7.5">0</tspan></text></g>
<g transform="translate(716.15,352.60) rotate(0.03) scale(0.2162,0.2145)"><text font-size="100" stroke="#000" stroke-width="0.7">j<tspan dy="7.5">=</tspan><tspan dy="-7.5">0.2</tspan></text></g>
<g transform="translate(716.15,390.30) rotate(0.03) scale(0.2162,0.2145)"><text font-size="100" stroke="#000" stroke-width="0.7">j<tspan dy="7.5">=</tspan><tspan dy="-7.5">0.4</tspan></text></g>
<g transform="translate(141.98,156.82) rotate(0.03) scale(0.1483,0.1520)"><text font-size="100" stroke="#000" stroke-width="1.5">4.5</text></g>
<g transform="translate(141.98,120.29) rotate(0.03) scale(0.1483,0.1520)"><text font-size="100" stroke="#000" stroke-width="1.5">4.6</text></g>
<g transform="translate(142.13,83.69) rotate(0.03) scale(0.1483,0.1520)"><text font-size="100" stroke="#000" stroke-width="1.5">4.7</text></g>
<g transform="translate(141.98,47.09) rotate(0.03) scale(0.1483,0.1520)"><text font-size="100" stroke="#000" stroke-width="1.5">4.8</text></g>
<g transform="translate(165.92,196.88) rotate(0.03) scale(0.1435,0.1580)"><text font-size="100" stroke="#000" stroke-width="1.5">17.0</text></g>
<g transform="translate(206.59,196.88) rotate(0.03) scale(0.1435,0.1580)"><text font-size="100" stroke="#000" stroke-width="1.5">17.5</text></g>
<g transform="translate(247.12,196.88) rotate(0.03) scale(0.1435,0.1580)"><text font-size="100" stroke="#000" stroke-width="1.5">18.0</text></g>
<g transform="translate(287.79,196.88) rotate(0.03) scale(0.1435,0.1580)"><text font-size="100" stroke="#000" stroke-width="1.5">18.5</text></g>
<g transform="translate(328.32,196.88) rotate(0.03) scale(0.1435,0.1580)"><text font-size="100" stroke="#000" stroke-width="1.5">19.0</text></g>
<g transform="translate(368.99,196.88) rotate(0.03) scale(0.1435,0.1580)"><text font-size="100" stroke="#000" stroke-width="1.5">19.5</text></g>
<g transform="translate(409.74,196.88) rotate(0.03) scale(0.1435,0.1580)"><text font-size="100" stroke="#000" stroke-width="1.5">20.0</text></g>
<g transform="translate(413.29,524.70) rotate(0.03) scale(0.3526,0.3389)"><text font-size="100" font-style="italic" transform="skewX(-3.5)">r</text></g>
<g transform="translate(430.06,524.75) rotate(0.03) scale(0.1800,0.3250)"><text font-size="100" font-style="italic" transform="skewX(-3.5)" stroke="#000" stroke-width="2.5">/</text></g>
<g transform="translate(439.81,524.70) rotate(0.03) scale(0.3298,0.3377)"><text font-size="100" font-style="italic" transform="skewX(-3.5)">M</text></g>
<g transform="translate(465.50,530.20) rotate(0.03) scale(0.2310,0.2406)"><text font-size="100" font-style="italic" transform="skewX(-3.5)">T</text></g>
<g transform="translate(281.94,224.55) rotate(0.03) scale(0.1625,0.1518)"><text font-size="100" font-style="italic" transform="skewX(-3.5)" stroke="#000" stroke-width="1.5">r</text></g>
<g transform="translate(289.43,224.63) rotate(0.03) scale(0.0704,0.1430)"><text font-size="100" font-style="italic" transform="skewX(-3.5)" stroke="#000" stroke-width="5">/</text></g>
<g transform="translate(294.19,224.55) rotate(0.03) scale(0.1535,0.1521)"><text font-size="100" font-style="italic" transform="skewX(-3.5)" stroke="#000" stroke-width="1.5">M</text></g>
<g transform="translate(306.46,227.78) rotate(0.03) scale(0.1033,0.1155)"><text font-size="100" font-style="italic" transform="skewX(-3.5)" stroke="#000" stroke-width="1.5">T</text></g>

<g transform="rotate(-90)">
<g transform="translate(-233.57,27.00) rotate(0.03) scale(0.2915,0.3420)"><text font-size="100" font-style="italic" transform="skewX(-9.8)">L</text></g>
<g transform="translate(-217.84,17.25) rotate(0.03) scale(0.2405,0.2378)"><text font-size="100" stroke="#000" stroke-width="2">*</text></g>
<g transform="translate(-101.86,127.69) rotate(0.03) scale(0.1108,0.1542)"><text font-size="100" font-style="italic" transform="skewX(-9.8)" stroke="#000" stroke-width="3">L</text></g>
<g transform="translate(-95.20,124.93) rotate(0.03) scale(0.1154,0.1289)"><text font-size="100"  stroke="#000" stroke-width="2.5">*</text></g>
</g>
<line x1="636.2" y1="234.75" x2="687.8" y2="234.75" stroke="#ff0000" stroke-width="2.2" stroke-dasharray="21.1 2.4 4.8 2.4"/>
<line x1="636.1" y1="272.5" x2="685.5" y2="272.5" stroke="#00ff00" stroke-width="2.2" stroke-dasharray="11.9 7.0"/>
<line x1="665.3" y1="310.0" x2="692.2" y2="310.0" stroke="#000000" stroke-width="2.2"/>
<line x1="637.6" y1="347.7" x2="689.0" y2="347.7" stroke="#ff00ff" stroke-width="2.2" stroke-dasharray="4 2.8"/>
<line x1="637.6" y1="385.6" x2="688.9" y2="385.6" stroke="#0000ff" stroke-width="2.2" stroke-dasharray="7.9 2.9"/>

</svg>
</body></html>
